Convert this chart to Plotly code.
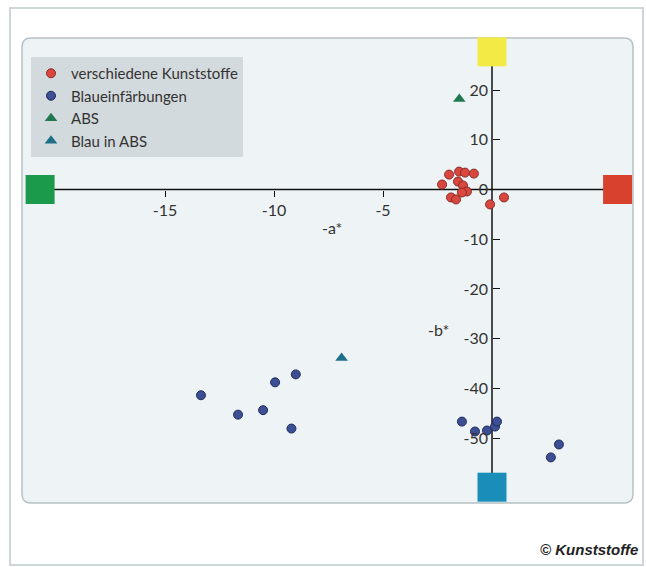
import plotly.graph_objects as go

# CIELab a*/b* coordinates of the measured samples
kunststoffe_a = [-1.97, -1.51, -1.24, -0.83, -2.29, -1.56, -1.33, -1.15, -1.38, -1.88, -1.65, -0.09, 0.55]
kunststoffe_b = [3.0, 3.6, 3.4, 3.2, 1.0, 1.6, 0.8, -0.4, -0.6, -1.6, -2.0, -3.0, -1.6]

blau_a = [-13.35, -11.65, -10.5, -9.95, -9.0, -9.2, -1.38, -0.78, -0.23, 0.14, 0.23, 2.7, 3.07]
blau_b = [-41.4, -45.3, -44.4, -38.8, -37.2, -48.1, -46.7, -48.7, -48.5, -47.7, -46.7, -53.9, -51.3]

abs_a = [-1.5]
abs_b = [18.2]

blau_abs_a = [-6.9]
blau_abs_b = [-33.9]

# colour poles at the ends of the a*/b* axes: green, red, yellow, blue
pole_a = [-20.73, 5.76, 0.0, 0.0]
pole_b = [0.0, 0.0, 27.7, -59.9]
pole_colors = ["#1c9a4c", "#d9412f", "#f3ea45", "#1a8db8"]

x_ticks = [-15, -10, -5]
x_ticklabels = ["-15", "-10", "-5"]
y_ticks = [20, 10, 0, -10, -20, -30, -40, -50]
y_ticklabels = ["20", "10", "0", "-10", "-20", "-30", "-40", "-50"]

W, H = 646, 567
PX_A, PX_B = 21.8, 4.97          # pixels per unit on each axis
X0, Y0 = 492, 189.5               # pixel location of the origin
x_range = [-X0 / PX_A, (W - X0) / PX_A]
y_range = [-(H - Y0) / PX_B, Y0 / PX_B]

FONT = "Lato"
TXT = "#333333"

fig = go.Figure()

# axis lines running between the colour poles
fig.add_trace(go.Scatter(x=pole_a[:2], y=pole_b[:2], mode="lines",
                         line=dict(color="#111111", width=1.5),
                         showlegend=False, hoverinfo="skip"))
fig.add_trace(go.Scatter(x=pole_a[2:], y=pole_b[2:], mode="lines",
                         line=dict(color="#111111", width=1.5),
                         showlegend=False, hoverinfo="skip"))
fig.add_trace(go.Scatter(x=pole_a, y=pole_b, mode="markers",
                         marker=dict(symbol="square", size=29, color=pole_colors,
                                     line=dict(width=0)),
                         showlegend=False, hoverinfo="skip"))

fig.add_trace(go.Scatter(x=kunststoffe_a, y=kunststoffe_b, mode="markers",
                         name="verschiedene Kunststoffe",
                         marker=dict(symbol="circle", size=9, color="#d9473f",
                                     line=dict(color="#8a2a25", width=1))))
fig.add_trace(go.Scatter(x=blau_a, y=blau_b, mode="markers",
                         name="Blaueinfärbungen",
                         marker=dict(symbol="circle", size=9, color="#3d4f94",
                                     line=dict(color="#1f2a5a", width=1))))
fig.add_trace(go.Scatter(x=abs_a, y=abs_b, mode="markers",
                         name="ABS",
                         marker=dict(symbol="triangle-up", size=11, color="#217a4f",
                                     line=dict(width=0))))
fig.add_trace(go.Scatter(x=blau_abs_a, y=blau_abs_b, mode="markers",
                         name="Blau in ABS",
                         marker=dict(symbol="triangle-up", size=11, color="#1d6f88",
                                     line=dict(width=0))))

# outer frame and rounded plot panel
def rounded_rect(x0, y0, x1, y1, r):
    fx = lambda v: v / W
    fy = lambda v: 1 - v / H
    rx, ry = r / W, r / H
    a, b, c, d = fx(x0), fx(x1), fy(y0), fy(y1)
    return (f"M {a+rx},{c} L {b-rx},{c} Q {b},{c} {b},{c-ry} "
            f"L {b},{d+ry} Q {b},{d} {b-rx},{d} L {a+rx},{d} "
            f"Q {a},{d} {a},{d+ry} L {a},{c-ry} Q {a},{c} {a+rx},{c} Z")

shapes = [
    dict(type="rect", xref="paper", yref="paper", x0=10 / W, x1=643 / W,
         y0=1 - 565 / H, y1=1 - 8 / H, line=dict(color="#cdd6d9", width=2),
         fillcolor="white", layer="below"),
    dict(type="path", xref="paper", yref="paper", path=rounded_rect(22, 38, 633, 503, 9),
         line=dict(color="#b7c1c5", width=1.5), fillcolor="#eef4f6", layer="below"),
]

annotations = [
    dict(x=(332 - X0) / PX_A, y=(Y0 - 227) / PX_B, xref="x", yref="y", text="-a*",
         showarrow=False, font=dict(family=FONT, size=16, color=TXT)),
    dict(x=(438 - X0) / PX_A, y=(Y0 - 329) / PX_B, xref="x", yref="y", text="-b*",
         showarrow=False, font=dict(family=FONT, size=16, color=TXT)),
    dict(x=640 / W, y=1 - 549 / H, xref="paper", yref="paper", xanchor="right",
         yanchor="middle", text="<b><i>© Kunststoffe</i></b>", showarrow=False,
         font=dict(family="Liberation Sans", size=15, color="#222222")),
]

fig.update_layout(
    width=W, height=H,
    margin=dict(l=0, r=0, t=0, b=0),
    paper_bgcolor="white", plot_bgcolor="rgba(0,0,0,0)",
    font=dict(family=FONT, size=16, color=TXT),
    shapes=shapes, annotations=annotations,
    showlegend=True,
    legend=dict(x=31 / W, y=1 - 57 / H, xanchor="left", yanchor="top",
                bgcolor="#d3dadd", borderwidth=0,
                font=dict(family=FONT, size=15, color=TXT),
                itemwidth=30, tracegroupgap=0),
    xaxis=dict(domain=[0, 1], range=x_range, anchor="free", position=1 - Y0 / H,
               tickvals=x_ticks, ticktext=x_ticklabels, ticks="outside", ticklen=6,
               tickwidth=1.2, tickcolor="#111111", showline=False, showgrid=False,
               zeroline=False, tickfont=dict(family=FONT, size=16, color=TXT)),
    yaxis=dict(domain=[0, 1], range=y_range, anchor="free", position=X0 / W,
               tickvals=y_ticks, ticktext=y_ticklabels, ticks="inside", ticklen=7,
               tickwidth=1.2, tickcolor="#111111", showline=False, showgrid=False,
               zeroline=False, ticklabelstandoff=4,
               tickfont=dict(family=FONT, size=16, color=TXT)),
)

fig.write_html("out.html")
